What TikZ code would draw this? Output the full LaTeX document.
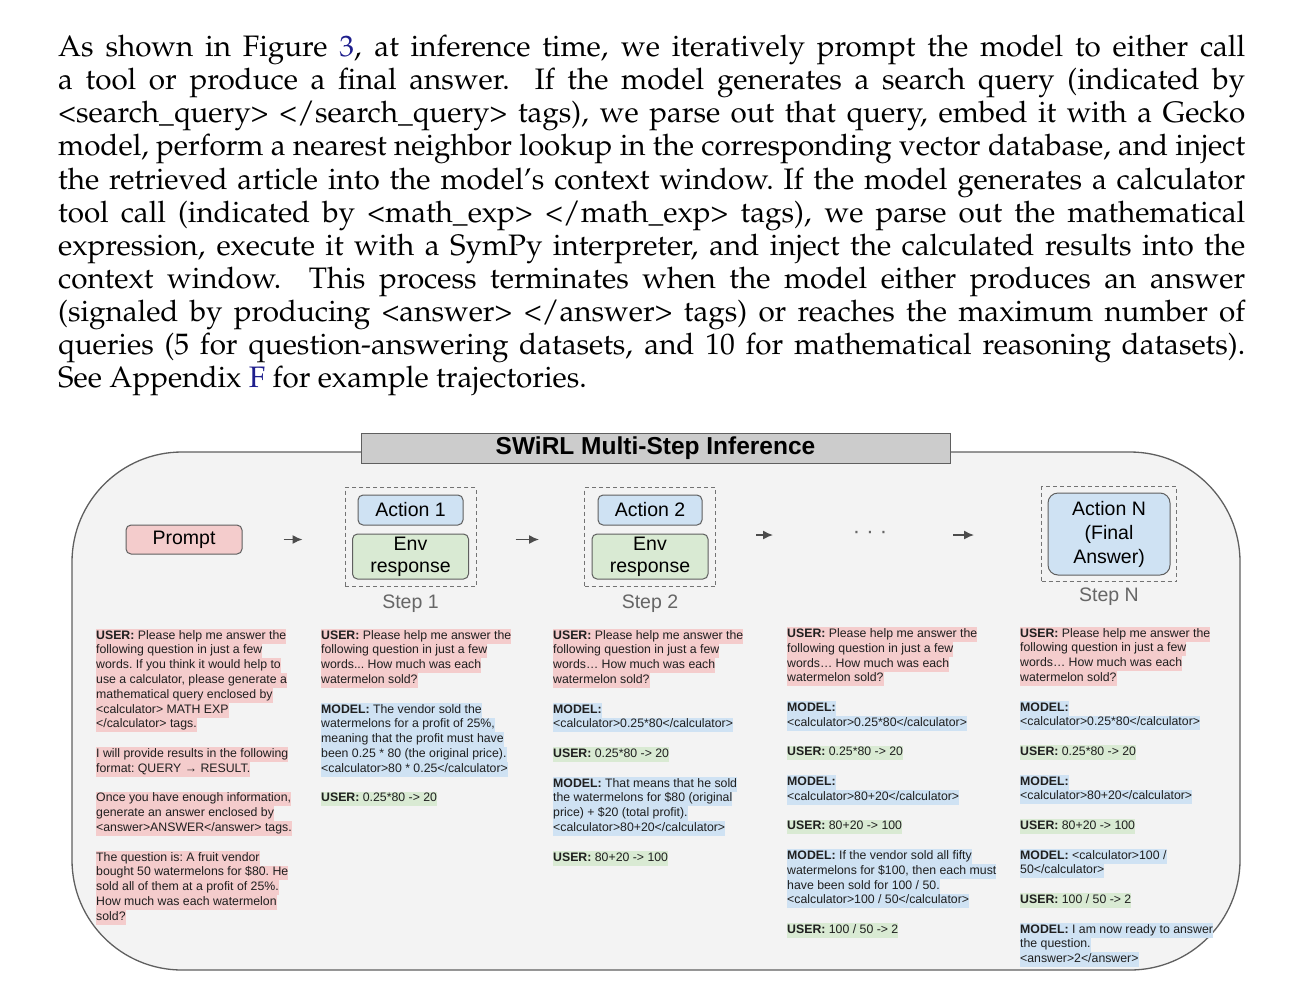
\documentclass[tikz,border=0pt]{standalone}
\usepackage[T1]{fontenc}
\usepackage{fontspec}
\setmainfont{Liberation Sans}
\usepackage{xcolor}
\usetikzlibrary{arrows.meta,positioning,fit}

\definecolor{userpink}{HTML}{F4CCCC}
\definecolor{modelblue}{HTML}{CFE2F3}
\definecolor{envgreen}{HTML}{D9EAD3}
\definecolor{panelgray}{HTML}{F3F3F3}
\definecolor{titlegray}{HTML}{CCCCCC}
\definecolor{edgegray}{HTML}{5F5F5F}
\definecolor{linkblue}{RGB}{30,30,140}

\setlength{\fboxsep}{0pt}
\newcommand{\hlU}[1]{\colorbox{userpink}{\strut #1}}
\newcommand{\hlM}[1]{\colorbox{modelblue}{\strut #1}}
\newcommand{\hlE}[1]{\colorbox{envgreen}{\strut #1}}
\newcommand{\paperfont}{\fontsize{29.6}{33.1}\usefont{T1}{ppl}{m}{n}}
\newcommand{\boxfont}{\fontsize{19.5}{22}\selectfont}
\newcommand{\gap}{\\[14.8pt]}

\tikzset{
  panelbox/.style={draw=edgegray, line width=1.3pt, fill=panelgray, rounded corners=110pt,
                   minimum width=1168pt, minimum height=518pt},
  titlebar/.style={draw=edgegray, line width=1pt, fill=titlegray, minimum width=589pt,
                   minimum height=30pt, font=\fontsize{24.5}{26}\selectfont\bfseries},
  promptbox/.style={draw=edgegray, line width=1pt, fill=userpink, rounded corners=5pt,
                    minimum width=116pt, minimum height=29pt, font=\boxfont},
  actbox/.style={draw=edgegray, line width=1pt, fill=modelblue, rounded corners=5pt,
                 minimum height=30pt, font=\boxfont, align=center},
  envbox/.style={draw=edgegray, line width=1pt, fill=envgreen, rounded corners=5pt,
                 minimum width=116pt, minimum height=45pt, inner sep=0pt,
                 font=\boxfont, align=center},
  stepbox/.style={draw=black!55, line width=1pt, dash pattern=on 4pt off 3pt, inner sep=7pt},
  steplbl/.style={inner sep=0pt, font=\boxfont, text=black!60},
  flow/.style={draw=black!70, line width=1.4pt, -{Latex[length=10pt,width=9pt]}},
  col/.style={anchor=north west, inner sep=0pt, align=left,
              font=\fontsize{12.3}{14.8}\selectfont\frenchspacing, text=black!88},
}

\begin{document}
\begin{tikzpicture}[x=1pt, y=-1pt, >=Stealth]
  \useasboundingbox (0,0) rectangle (1300,1001);

  % running text above the figure
  \node[anchor=north west, inner sep=0pt, text width=1187pt, align=justify,
        font=\paperfont] (para) at (58,35) {%
    As shown in Figure \textcolor{linkblue}{3}, at inference time, we iteratively prompt the model to either call\linebreak
    a tool or produce a final answer.  If the model generates a search query (indicated by\linebreak
    \textless search\_query\textgreater{} \textless/search\_query\textgreater{} tags), we parse out that query, embed it with a Gecko\linebreak
    model, perform a nearest neighbor lookup in the corresponding vector database, and inject\linebreak
    the retrieved article into the model's context window.\ If the model generates a calculator\linebreak
    tool call (indicated by \textless math\_exp\textgreater{} \textless/math\_exp\textgreater{} tags), we parse out the mathematical\linebreak
    expression, execute it with a SymPy interpreter, and inject the calculated results into the\linebreak
    context window.  This process terminates when the model either produces an answer\linebreak
    (signaled by producing \textless answer\textgreater{} \textless/answer\textgreater{} tags) or reaches the maximum number of\linebreak
    queries (5 for question-answering datasets, and 10 for mathematical reasoning datasets).\linebreak
    See Appendix \textcolor{linkblue}{F} for example trajectories.};

  % panel and title
  \node[panelbox] (panel) at (656,711) {};
  \node[titlebar] (title) at (655.5,448) {SWiRL Multi-Step Inference};

  % top row
  \node[promptbox] (prompt) at (184,539.5) {Prompt};

  \node[actbox, minimum width=105pt] (act1) at (410.5,510) {Action 1};
  \node[envbox, below=8pt of act1] (env1) {Env\\response};
  \node[stepbox, fit=(act1)(env1)] (step1) {};
  \node[steplbl, below=8pt of step1] (lbl1) {Step 1};

  \node[actbox, minimum width=104pt] (act2) at (650,510) {Action 2};
  \node[envbox, below=8pt of act2] (env2) {Env\\response};
  \node[stepbox, fit=(act2)(env2)] (step2) {};
  \node[steplbl, below=8pt of step2] (lbl2) {Step 2};

  \node[font=\fontsize{22}{24}\selectfont, text=black!60] (dots) at (870,535) {· · ·};

  \node[actbox, minimum width=122pt, minimum height=82pt, rounded corners=10pt,
        font=\fontsize{19.5}{24}\selectfont] (actN) at (1109,534) {Action N\\(Final\\Answer)};
  \node[stepbox, inner sep=6pt, fit=(actN)] (stepN) {};
  \node[steplbl, below=6pt of stepN] (lblN) {Step N};

  \draw[flow, shorten <=41pt, shorten >=42pt] (prompt.east) -- (prompt.east -| step1.west);
  \draw[flow, shorten <=39pt, shorten >=45pt] (step1.east |- prompt) -- (step2.west |- prompt);
  \draw[flow, shorten <=40pt, shorten >=97pt] (step2.east |- dots.center) -- (dots.center);
  \draw[flow, shorten <=83pt, shorten >=67pt] (dots.center) -- (stepN.west |- dots.center);

  % trajectories
  \node[col] (traj0) at (96,628.6) {%
    \hlU{\textbf{USER:} Please help me answer the}\\
    \hlU{following question in just a few}\\
    \hlU{words. If you think it would help to}\\
    \hlU{use a calculator, please generate a}\\
    \hlU{mathematical query enclosed by}\\
    \hlU{<calculator> MATH EXP}\\
    \hlU{</calculator> tags.}\gap
    \hlU{I will provide results in the following}\\
    \hlU{format: QUERY → RESULT.}\gap
    \hlU{Once you have enough information,}\\
    \hlU{generate an answer enclosed by}\\
    \hlU{<answer>ANSWER</answer> tags.}\gap
    \hlU{The question is: A fruit vendor}\\
    \hlU{bought 50 watermelons for \$80. He}\\
    \hlU{sold all of them at a profit of 25\%.}\\
    \hlU{How much was each watermelon}\\
    \hlU{sold?}};

  \node[col] (traj1) at (321,628.6) {%
    \hlU{\textbf{USER:} Please help me answer the}\\
    \hlU{following question in just a few}\\
    \hlU{words... How much was each}\\
    \hlU{watermelon sold?}\gap
    \hlM{\textbf{MODEL:} The vendor sold the}\\
    \hlM{watermelons for a profit of 25\%,}\\
    \hlM{meaning that the profit must have}\\
    \hlM{been 0.25 * 80 (the original price).}\\
    \hlM{<calculator>80 * 0.25</calculator>}\gap
    \hlE{\textbf{USER:} 0.25*80 -> 20}};

  \node[col] (traj2) at (553,628.6) {%
    \hlU{\textbf{USER:} Please help me answer the}\\
    \hlU{following question in just a few}\\
    \hlU{words… How much was each}\\
    \hlU{watermelon sold?}\gap
    \hlM{\textbf{MODEL:}}\\
    \hlM{<calculator>0.25*80</calculator>}\gap
    \hlE{\textbf{USER:} 0.25*80 -> 20}\gap
    \hlM{\textbf{MODEL:} That means that he sold}\\
    \hlM{the watermelons for \$80 (original}\\
    \hlM{price) + \$20 (total profit).}\\
    \hlM{<calculator>80+20</calculator>}\gap
    \hlE{\textbf{USER:} 80+20 -> 100}};

  \node[col] (traj3) at (787,627) {%
    \hlU{\textbf{USER:} Please help me answer the}\\
    \hlU{following question in just a few}\\
    \hlU{words… How much was each}\\
    \hlU{watermelon sold?}\gap
    \hlM{\textbf{MODEL:}}\\
    \hlM{<calculator>0.25*80</calculator>}\gap
    \hlE{\textbf{USER:} 0.25*80 -> 20}\gap
    \hlM{\textbf{MODEL:}}\\
    \hlM{<calculator>80+20</calculator>}\gap
    \hlE{\textbf{USER:} 80+20 -> 100}\gap
    \hlM{\textbf{MODEL:} If the vendor sold all fifty}\\
    \hlM{watermelons for \$100, then each must}\\
    \hlM{have been sold for 100 / 50.}\\
    \hlM{<calculator>100 / 50</calculator>}\gap
    \hlE{\textbf{USER:} 100 / 50 -> 2}};

  \node[col] (traj4) at (1020,626.6) {%
    \hlU{\textbf{USER:} Please help me answer the}\\
    \hlU{following question in just a few}\\
    \hlU{words… How much was each}\\
    \hlU{watermelon sold?}\gap
    \hlM{\textbf{MODEL:}}\\
    \hlM{<calculator>0.25*80</calculator>}\gap
    \hlE{\textbf{USER:} 0.25*80 -> 20}\gap
    \hlM{\textbf{MODEL:}}\\
    \hlM{<calculator>80+20</calculator>}\gap
    \hlE{\textbf{USER:} 80+20 -> 100}\gap
    \hlM{\textbf{MODEL:} <calculator>100 /}\\
    \hlM{50</calculator>}\gap
    \hlE{\textbf{USER:} 100 / 50 -> 2}\gap
    \hlM{\textbf{MODEL:} I am now ready to answer}\\
    \hlM{the question.}\\
    \hlM{<answer>2</answer>}};
\end{tikzpicture}
\end{document}
